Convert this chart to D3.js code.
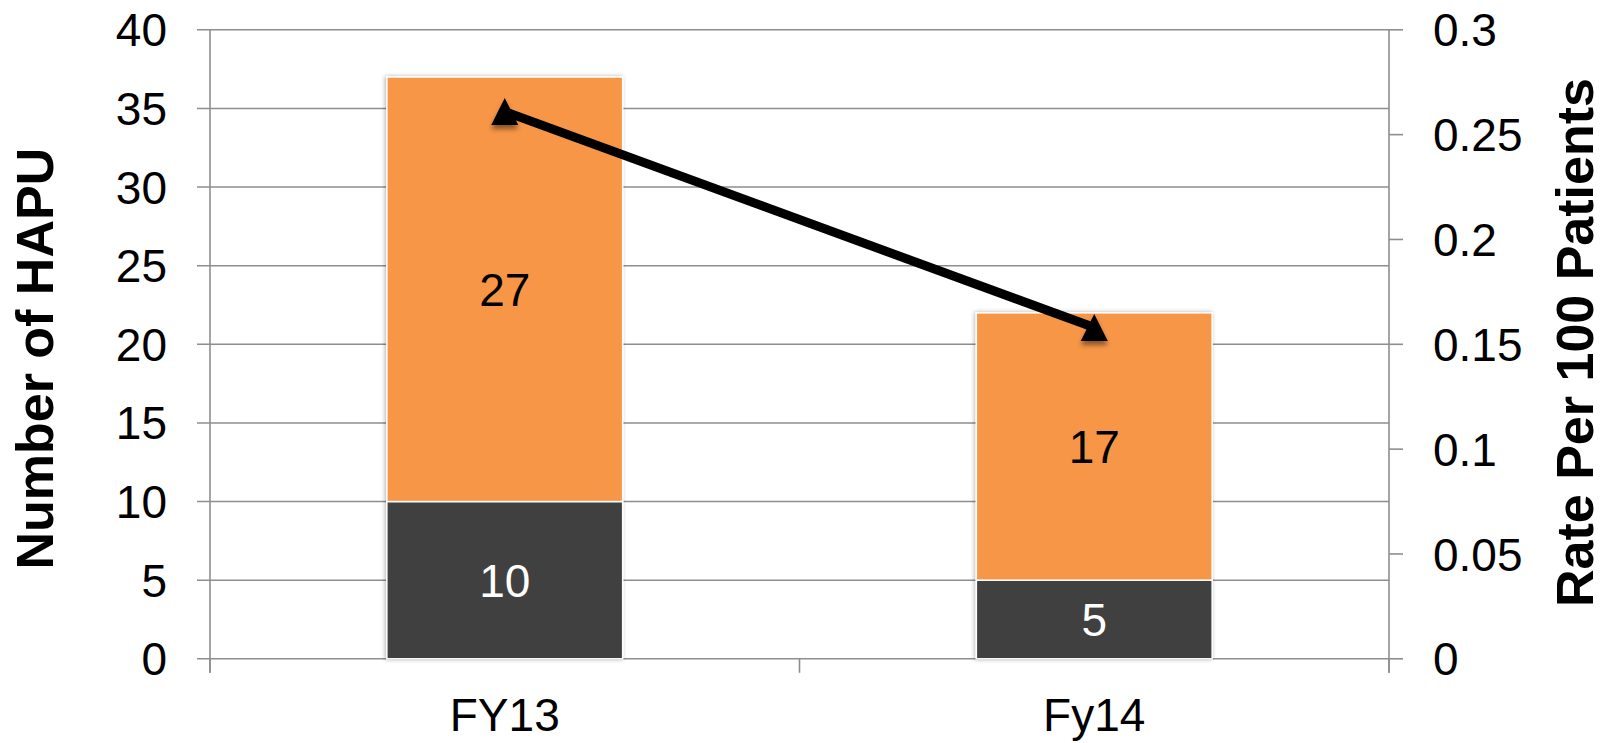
<!DOCTYPE html>
<html>
<head>
<meta charset="utf-8">
<script src="https://cdn.jsdelivr.net/npm/d3@7/dist/d3.min.js"></script>
<style>
  html, body { margin: 0; padding: 0; background: #fff; }
  svg { display: block; font-family: "Liberation Sans", Arial, Helvetica, sans-serif; }
</style>
</head>
<body>
<svg id="chart" width="1609" height="743"></svg>
<script>
// Fiscal-year HAPU counts, stacked, with the rate per 100 patients on a second axis
const categories = ["FY13", "Fy14"];
const lowerCounts = [10, 5];     // dark segment
const upperCounts = [27, 17];    // orange segment
const ratePer100 = [0.261, 0.158];
const leftTicks = [0, 5, 10, 15, 20, 25, 30, 35, 40];
const rightTicks = [0, 0.05, 0.1, 0.15, 0.2, 0.25, 0.3];

const W = 1609, H = 743;
const plot = { left: 210, right: 1389, top: 29.8, bottom: 658.8 };
const labelSize = 46;

const svg = d3.select("#chart");

const defs = svg.append("defs");
const barShadow = defs.append("filter").attr("id", "barShadow")
  .attr("x", "-10%").attr("y", "-10%").attr("width", "120%").attr("height", "120%");
barShadow.append("feDropShadow").attr("dx", -1).attr("dy", 0)
  .attr("stdDeviation", 2).attr("flood-color", "#000").attr("flood-opacity", 0.3);
const markShadow = defs.append("filter").attr("id", "markShadow")
  .attr("x", "-50%").attr("y", "-50%").attr("width", "200%").attr("height", "200%");
markShadow.append("feDropShadow").attr("dx", 0).attr("dy", 4)
  .attr("stdDeviation", 2.5).attr("flood-color", "#000").attr("flood-opacity", 0.45);

const x = d3.scaleBand().domain(categories).range([plot.left, plot.right]).padding(0);
const y = d3.scaleLinear().domain([0, 40]).range([plot.bottom, plot.top]);
const y2 = d3.scaleLinear().domain([0, 0.3]).range([plot.bottom, plot.top]);

const gridColor = "#8e8e8e";

// horizontal gridlines with outward tick stubs on the left
svg.append("g").selectAll("line").data(leftTicks).join("line")
  .attr("x1", plot.left - 13).attr("x2", plot.right)
  .attr("y1", d => y(d)).attr("y2", d => y(d))
  .attr("stroke", gridColor).attr("stroke-width", 1.6);

// left axis line
svg.append("line")
  .attr("x1", plot.left).attr("x2", plot.left)
  .attr("y1", plot.top).attr("y2", plot.bottom + 14)
  .attr("stroke", gridColor).attr("stroke-width", 1.6);

// right axis line and its ticks
svg.append("line")
  .attr("x1", plot.right).attr("x2", plot.right)
  .attr("y1", plot.top).attr("y2", plot.bottom + 14)
  .attr("stroke", gridColor).attr("stroke-width", 1.6);
svg.append("g").selectAll("line").data(rightTicks).join("line")
  .attr("x1", plot.right).attr("x2", plot.right + 14)
  .attr("y1", d => y2(d)).attr("y2", d => y2(d))
  .attr("stroke", gridColor).attr("stroke-width", 1.6);

// category boundary ticks below the baseline
const bounds = categories.map(c => x(c)).concat([x(categories[categories.length - 1]) + x.bandwidth()]);
svg.append("g").selectAll("line").data(bounds).join("line")
  .attr("x1", d => d).attr("x2", d => d)
  .attr("y1", plot.bottom).attr("y2", plot.bottom + 14)
  .attr("stroke", gridColor).attr("stroke-width", 1.6);

// left tick labels
svg.append("g").selectAll("text").data(leftTicks).join("text")
  .attr("x", 167).attr("y", d => y(d)).attr("dy", "0.36em")
  .attr("text-anchor", "end").attr("font-size", labelSize).attr("fill", "#000")
  .text(d => d);

// right tick labels
svg.append("g").selectAll("text").data(rightTicks).join("text")
  .attr("x", 1433).attr("y", d => y2(d)).attr("dy", "0.36em")
  .attr("text-anchor", "start").attr("font-size", labelSize).attr("fill", "#000")
  .text(d => d3.format("~g")(d));

// category labels
svg.append("g").selectAll("text").data(categories).join("text")
  .attr("x", d => x(d) + x.bandwidth() / 2).attr("y", 731)
  .attr("text-anchor", "middle").attr("font-size", labelSize).attr("fill", "#000")
  .text(d => d);

// stacked bars
const barW = x.bandwidth() * 0.4;
const bars = svg.append("g");
categories.forEach((c, i) => {
  const cx = x(c) + x.bandwidth() / 2;
  const lo = lowerCounts[i], hi = upperCounts[i];
  const g = bars.append("g").attr("filter", "url(#barShadow)");
  g.append("rect")
    .attr("x", cx - barW / 2).attr("width", barW)
    .attr("y", y(lo)).attr("height", y(0) - y(lo))
    .attr("fill", "#404040").attr("stroke", "#fff").attr("stroke-width", 1.5);
  g.append("rect")
    .attr("x", cx - barW / 2).attr("width", barW)
    .attr("y", y(lo + hi)).attr("height", y(lo) - y(lo + hi))
    .attr("fill", "#F79646").attr("stroke", "#fff").attr("stroke-width", 1.5);
});

// segment value labels
const labels = svg.append("g").attr("font-size", labelSize).attr("text-anchor", "middle");
categories.forEach((c, i) => {
  const cx = x(c) + x.bandwidth() / 2;
  const lo = lowerCounts[i], hi = upperCounts[i];
  labels.append("text").attr("x", cx).attr("y", y(lo / 2)).attr("dy", "0.36em")
    .attr("fill", "#fff").text(lo);
  labels.append("text").attr("x", cx).attr("y", y(lo + hi / 2)).attr("dy", "0.36em")
    .attr("fill", "#000").text(hi);
});

// rate line with triangle markers
const pts = categories.map((c, i) => [x(c) + x.bandwidth() / 2, y2(ratePer100[i])]);
svg.append("path")
  .attr("d", d3.line()(pts))
  .attr("fill", "none").attr("stroke", "#000").attr("stroke-width", 9)
  .attr("stroke-linecap", "butt");

const triangle = {
  draw(ctx, size) {
    const s = Math.sqrt(size) / 2;
    ctx.moveTo(0, -s);
    ctx.lineTo(s, s);
    ctx.lineTo(-s, s);
    ctx.closePath();
  }
};
svg.append("g").selectAll("path").data(pts).join("path")
  .attr("transform", d => `translate(${d[0]},${d[1]})`)
  .attr("d", d3.symbol().type(triangle).size(27 * 27))
  .attr("fill", "#000").attr("filter", "url(#markShadow)");

// axis titles
svg.append("text")
  .attr("transform", "translate(52.7,358.7) rotate(-90)")
  .attr("text-anchor", "middle").attr("font-size", 52).attr("font-weight", "bold")
  .attr("fill", "#000").text("Number of HAPU");
svg.append("text")
  .attr("transform", "translate(1593,342.5) rotate(-90)")
  .attr("text-anchor", "middle").attr("font-size", 52).attr("font-weight", "bold")
  .attr("fill", "#000").text("Rate Per 100 Patients");
</script>
</body>
</html>
